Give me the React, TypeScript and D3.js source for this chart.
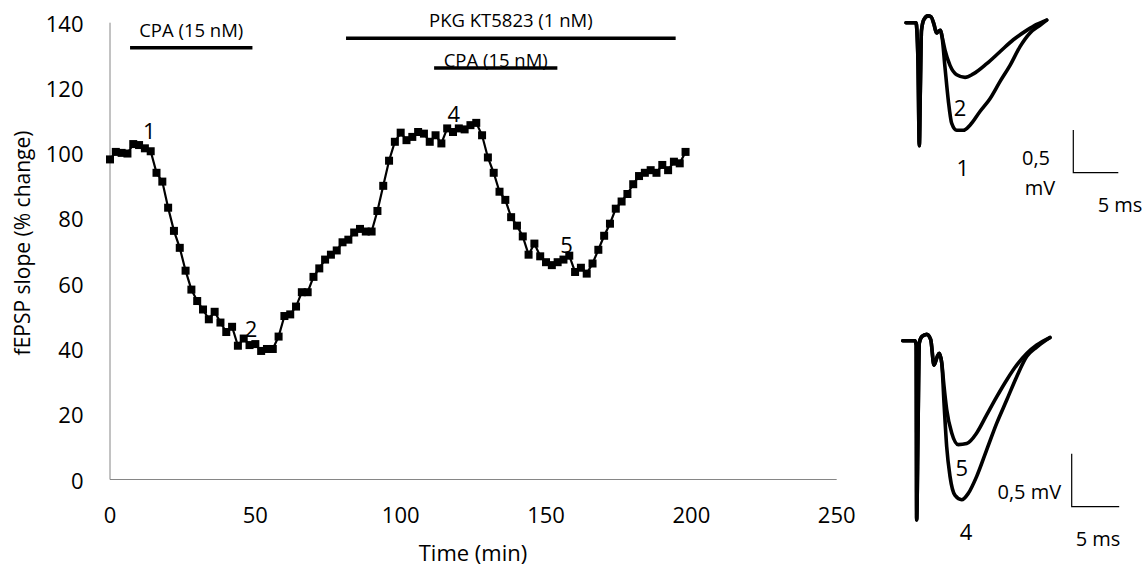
import React from "react";
import * as d3 from "d3";

// fEPSP slope time course (every 2 min)
const times = [
  0, 2, 4, 6, 8, 10, 12, 14, 16, 18, 20, 22, 24, 26, 28, 30, 32, 34, 36, 38,
  40, 42, 44, 46, 48, 50, 52, 54, 56, 58, 60, 62, 64, 66, 68, 70, 72, 74, 76, 78,
  80, 82, 84, 86, 88, 90, 92, 94, 96, 98, 100, 102, 104, 106, 108, 110, 112, 114, 116, 118,
  120, 122, 124, 126, 128, 130, 132, 134, 136, 138, 140, 142, 144, 146, 148, 150, 152, 154, 156, 158,
  160, 162, 164, 166, 168, 170, 172, 174, 176, 178, 180, 182, 184, 186, 188, 190, 192, 194, 196, 198,
];
const slope = [
  98.1, 100.4, 100.1, 99.9, 102.8, 102.5, 101.5, 100.6, 94.0, 91.3,
  83.3, 76.2, 71.0, 64.0, 58.2, 54.7, 52.1, 49.1, 51.4, 48.1,
  45.2, 46.8, 41.0, 43.2, 41.2, 41.5, 39.4, 40.0, 40.0, 43.8,
  50.1, 50.6, 53.0, 57.4, 57.4, 62.1, 64.7, 67.4, 68.9, 70.2,
  72.7, 73.5, 75.7, 76.8, 76.0, 76.0, 82.3, 90.0, 97.7, 103.5,
  106.3, 104.0, 105.0, 106.5, 106.0, 103.5, 105.5, 103.0, 107.6, 106.5,
  107.6, 107.3, 108.6, 109.3, 105.5, 98.7, 94.0, 88.2, 85.7, 80.4,
  77.8, 74.5, 68.9, 72.3, 68.4, 66.6, 65.7, 66.6, 67.4, 68.6,
  63.6, 64.9, 63.1, 66.2, 70.4, 74.7, 78.4, 83.0, 85.2, 87.5,
  90.5, 93.0, 94.0, 94.8, 94.0, 96.4, 94.8, 97.4, 96.9, 100.4,
];

const xTicks = [0, 50, 100, 150, 200, 250];
const yTicks = [0, 20, 40, 60, 80, 100, 120, 140];

// drug application bars
const drugLabels = ["CPA (15 nM)", "PKG KT5823 (1 nM)", "CPA (15 nM)"];
const drugStart = [6.9, 81.2, 111.5];
const drugEnd = [49, 194.6, 153.9];
const drugLevel = [132.3, 135.2, 126.1];
const drugLabelLevel = [137.8, 140.9, 128.8];

// numbered sample points
const markLabels = ["1", "2", "4", "5"];
const markTime = [13.5, 48.5, 118.3, 157.1];
const markValue = [107.1, 46.4, 112.3, 72.3];

// sample traces [ms, mV]
const topStart = [
  [0, 0], [0.78, 0], [1.11, 0], [1.33, -0.44], [1.48, -1.44], [1.59, -0.79], [1.72, -0.09],
  [2.0, 0.04], [2.44, 0.08], [2.78, 0.07], [3.11, -0.02], [3.39, -0.12], [3.61, -0.1],
  [3.83, -0.09], [4.0, -0.16],
];
const trace1 = [
  [4.33, -0.52], [4.7, -0.91], [5.08, -1.18], [5.63, -1.26], [6.37, -1.26], [7.11, -1.2],
  [8.22, -1.04], [9.33, -0.89], [10.44, -0.69], [11.56, -0.5], [12.67, -0.28], [13.78, -0.12],
  [14.89, -0.03], [15.63, 0.03],
];
const trace2 = [
  [4.33, -0.32], [4.89, -0.5], [5.63, -0.61], [6.56, -0.64], [7.48, -0.6], [8.97, -0.48],
  [10.44, -0.34], [11.92, -0.2], [13.41, -0.09], [14.52, -0.02], [15.63, 0.03],
];
const bottomStart = [
  [0, 0], [1.29, 0], [1.42, -0.04], [1.47, -1.69], [1.61, -0.84], [1.75, -0.02], [2.03, 0.04],
  [2.53, 0.06], [2.95, 0.01], [3.29, -0.23], [3.64, -0.15], [3.85, -0.12], [4.11, -0.21],
];
const trace4 = [
  [4.35, -0.59], [4.63, -1.0], [4.98, -1.28], [5.51, -1.46], [6.21, -1.5], [6.91, -1.44],
  [7.79, -1.28], [8.84, -1.03], [9.89, -0.78], [10.95, -0.56], [12.0, -0.34], [13.05, -0.15],
  [14.11, -0.06], [15.5, 0.03],
];
const trace5 = [
  [4.35, -0.43], [4.63, -0.65], [5.16, -0.87], [5.85, -0.98], [6.74, -0.97], [7.79, -0.87],
  [8.84, -0.7], [9.89, -0.53], [10.95, -0.37], [12.0, -0.23], [13.05, -0.12], [14.11, -0.04],
  [15.5, 0.03],
];

const FONT = "'Open Sans', sans-serif";
const AXIS = "#868686";

function TracePanel({ x0, y0, pxMs, pxMv, start, big, small, bigLabel, smallLabel, bar, labels }: any) {
  const x = d3.scaleLinear().domain([0, 1]).range([x0, x0 + pxMs]);
  const y = d3.scaleLinear().domain([0, -1]).range([y0, y0 + pxMv]);
  const line = d3.line<number[]>().x(d => x(d[0])).y(d => y(d[1])).curve(d3.curveMonotoneX);
  const barW = x(5) - x(0);
  const barH = y(-0.5) - y(0);
  return (
    <g>
      {[big, small].map((t: number[][], i: number) => (
        <path key={i} d={line(start.concat(t)) || ""} fill="none" stroke="#000" strokeWidth={3.6}
          strokeLinejoin="round" strokeLinecap="round" />
      ))}
      <text x={bigLabel[0]} y={bigLabel[1]} textAnchor="middle" dominantBaseline="central" fontSize={22}>{bigLabel[2]}</text>
      <text x={smallLabel[0]} y={smallLabel[1]} textAnchor="middle" dominantBaseline="central" fontSize={22}>{smallLabel[2]}</text>
      <path d={`M${bar[0]},${bar[1] - barH}V${bar[1]}H${bar[0] + barW}`} fill="none" stroke="#000" strokeWidth={1.2} />
      {labels.map((l: any, i: number) => (
        <text key={i} x={l[0]} y={l[1]} textAnchor="middle" dominantBaseline="central" fontSize={20}>{l[2]}</text>
      ))}
    </g>
  );
}

export default function App() {
  const W = 1147, H = 569;
  const x = d3.scaleLinear().domain([0, 250]).range([110, 836.7]);
  const y = d3.scaleLinear().domain([0, 140]).range([479.5, 22.7]);
  const pts = times.map((t, i) => [t, slope[i]]);
  const line = d3.line<number[]>().x(d => x(d[0])).y(d => y(d[1]));
  const sq = 8;

  return (
    <svg width={W} height={H} style={{ position: "absolute", left: 0, top: 0, background: "#fff" }}
      fontFamily={FONT} fill="#000">
      {/* axes */}
      <line x1={x(0)} x2={x(0)} y1={y(0)} y2={y(140)} stroke={AXIS} strokeWidth={1} />
      <line x1={x(0)} x2={x(250)} y1={y(0)} y2={y(0)} stroke={AXIS} strokeWidth={1} />
      {yTicks.map(v => (
        <text key={v} x={83.5} y={y(v)} textAnchor="end" dominantBaseline="central" fontSize={22}>{v}</text>
      ))}
      {xTicks.map(v => (
        <text key={v} x={x(v)} y={514} textAnchor="middle" dominantBaseline="central" fontSize={22}>{v}</text>
      ))}
      <text x={473} y={552} textAnchor="middle" dominantBaseline="central" fontSize={22}>Time (min)</text>
      <text transform="translate(22,243) rotate(-90)" textAnchor="middle" dominantBaseline="central" fontSize={21}>
        fEPSP slope (% change)
      </text>

      {/* drug bars */}
      {drugLabels.map((l, i) => (
        <g key={i}>
          <line x1={x(drugStart[i])} x2={x(drugEnd[i])} y1={y(drugLevel[i])} y2={y(drugLevel[i])}
            stroke="#000" strokeWidth={3.5} />
          <text x={x((drugStart[i] + drugEnd[i]) / 2)} y={y(drugLabelLevel[i])} textAnchor="middle"
            dominantBaseline="central" fontSize={18.5}>{l}</text>
        </g>
      ))}

      {/* time course */}
      <path d={line(pts) || ""} fill="none" stroke="#000" strokeWidth={2.2} />
      {pts.map((d, i) => (
        <rect key={i} x={x(d[0]) - sq / 2} y={y(d[1]) - sq / 2} width={sq} height={sq} fill="#000" />
      ))}
      {markLabels.map((l, i) => (
        <text key={l} x={x(markTime[i])} y={y(markValue[i])} textAnchor="middle" dominantBaseline="central" fontSize={22}>{l}</text>
      ))}

      {/* example traces */}
      <TracePanel x0={906} y0={22.7} pxMs={9} pxMv={85.4} start={topStart} big={trace1} small={trace2}
        bigLabel={[962.7, 166.7, "1"]} smallLabel={[960, 107.3, "2"]} bar={[1073.3, 172.7]}
        labels={[[1036, 157.5, "0,5"], [1040, 187.5, "mV"], [1120, 204, "5 ms"]]} />
      <TracePanel x0={902.7} y0={340.7} pxMs={9.5} pxMv={106} start={bottomStart} big={trace4} small={trace5}
        bigLabel={[966, 530.7, "4"]} smallLabel={[961.7, 466.7, "5"]} bar={[1071.7, 506.7]}
        labels={[[1029.3, 491.7, "0,5 mV"], [1098, 538.3, "5 ms"]]} />
    </svg>
  );
}
